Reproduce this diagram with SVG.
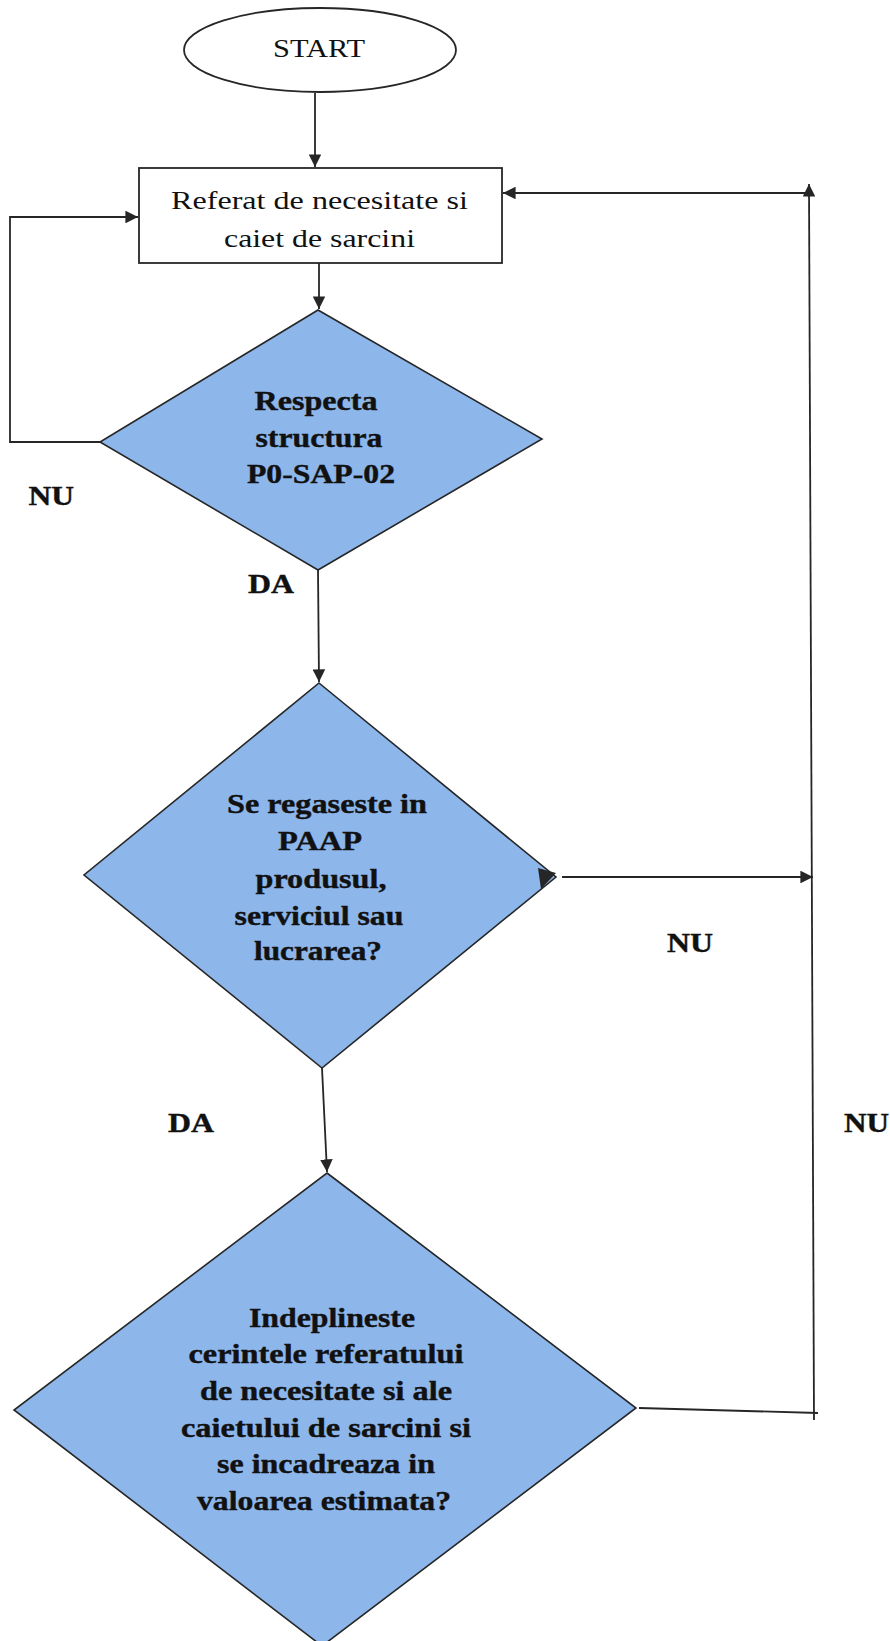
<svg xmlns="http://www.w3.org/2000/svg" width="890" height="1641" viewBox="0 0 890 1641">
<style>
.ln{fill:none;stroke:#262626;stroke-width:1.8}
.arr{marker-end:url(#ah)}
.dec{fill:#8DB6EB;stroke:#262626;stroke-width:1.6}
.proc{fill:#ffffff;stroke:#262626;stroke-width:1.8}
.t{font-family:"Liberation Serif","Times New Roman",serif;fill:#111;text-anchor:middle}
.n{font-size:26px}
.b{font-size:27px;font-weight:bold;stroke:#111;stroke-width:0.4}
.lab{font-family:"Liberation Serif","Times New Roman",serif;fill:#111;font-size:27px;font-weight:bold;stroke:#111;stroke-width:0.4}
</style>
<defs>
<marker id="ah" viewBox="0 0 10 10" refX="10" refY="5" markerWidth="7" markerHeight="7" markerUnits="strokeWidth" orient="auto">
<path d="M0,0 L10,5 L0,10 z" fill="#262626"/>
</marker>
</defs>
<rect width="890" height="1641" fill="#ffffff"/>
<g id="start">
<ellipse cx="320" cy="50" rx="136" ry="42" class="proc"/>
<text class="t n" x="319" y="57" textLength="92" lengthAdjust="spacingAndGlyphs">START</text>
</g>
<g id="referat">
<rect x="139" y="168" width="363" height="95" class="proc"/>
<text class="t n" x="319.5" y="209" textLength="297" lengthAdjust="spacingAndGlyphs">Referat de necesitate si</text>
<text class="t n" x="319.5" y="247" textLength="191" lengthAdjust="spacingAndGlyphs">caiet de sarcini</text>
</g>
<g id="decision1">
<polygon class="dec" points="318,310 542,439 318,570 100,442"/>
<text class="t b" x="316" y="410" textLength="123" lengthAdjust="spacingAndGlyphs">Respecta</text>
<text class="t b" x="319" y="447" textLength="127" lengthAdjust="spacingAndGlyphs">structura</text>
<text class="t b" x="321" y="483" textLength="148" lengthAdjust="spacingAndGlyphs">P0-SAP-02</text>
</g>
<g id="decision2">
<polygon class="dec" points="319,683 556,877 322,1068 84,875"/>
<text class="t b" x="327" y="813" textLength="200" lengthAdjust="spacingAndGlyphs">Se regaseste in</text>
<text class="t b" x="320" y="850" textLength="84" lengthAdjust="spacingAndGlyphs">PAAP</text>
<text class="t b" x="321" y="888" textLength="131" lengthAdjust="spacingAndGlyphs">produsul,</text>
<text class="t b" x="319" y="925" textLength="169" lengthAdjust="spacingAndGlyphs">serviciul sau</text>
<text class="t b" x="318" y="960" textLength="128" lengthAdjust="spacingAndGlyphs">lucrarea?</text>
</g>
<g id="decision3">
<polygon class="dec" points="327,1173 636,1408 322,1646 14,1410"/>
<text class="t b" x="332" y="1327" textLength="166" lengthAdjust="spacingAndGlyphs">Indeplineste</text>
<text class="t b" x="326" y="1363" textLength="275" lengthAdjust="spacingAndGlyphs">cerintele referatului</text>
<text class="t b" x="326" y="1400" textLength="252" lengthAdjust="spacingAndGlyphs">de necesitate si ale</text>
<text class="t b" x="326" y="1437" textLength="290" lengthAdjust="spacingAndGlyphs">caietului de sarcini si</text>
<text class="t b" x="326" y="1473" textLength="218" lengthAdjust="spacingAndGlyphs">se incadreaza in</text>
<text class="t b" x="324" y="1510" textLength="254" lengthAdjust="spacingAndGlyphs">valoarea estimata?</text>
</g>
<g id="connectors">
<line class="ln arr" x1="315" y1="93" x2="315" y2="167"/>
<line class="ln arr" x1="319" y1="263" x2="319" y2="309"/>
<polyline class="ln arr" points="100,442 10,442 10,217 138,217"/>
<line class="ln arr" x1="318" y1="570" x2="319" y2="682"/>
<line class="ln arr" x1="562" y1="877" x2="813" y2="877"/>
<path d="M538,868 L556,873 L541,889 z" fill="#262626"/>
<line class="ln arr" x1="322" y1="1068" x2="327" y2="1172"/>
<line class="ln" x1="639" y1="1408" x2="818" y2="1413"/>
<line class="ln arr" x1="814" y1="1420" x2="809" y2="184"/>
<line class="ln arr" x1="807" y1="193" x2="503" y2="193"/>
</g>
<g id="labels">
<text class="lab" x="28.5" y="505" textLength="45.5" lengthAdjust="spacingAndGlyphs">NU</text>
<text class="lab" x="248" y="593" textLength="46" lengthAdjust="spacingAndGlyphs">DA</text>
<text class="lab" x="667" y="952" textLength="46" lengthAdjust="spacingAndGlyphs">NU</text>
<text class="lab" x="168" y="1132" textLength="46" lengthAdjust="spacingAndGlyphs">DA</text>
<text class="lab" x="844" y="1132" textLength="45" lengthAdjust="spacingAndGlyphs">NU</text>
</g>
</svg>
